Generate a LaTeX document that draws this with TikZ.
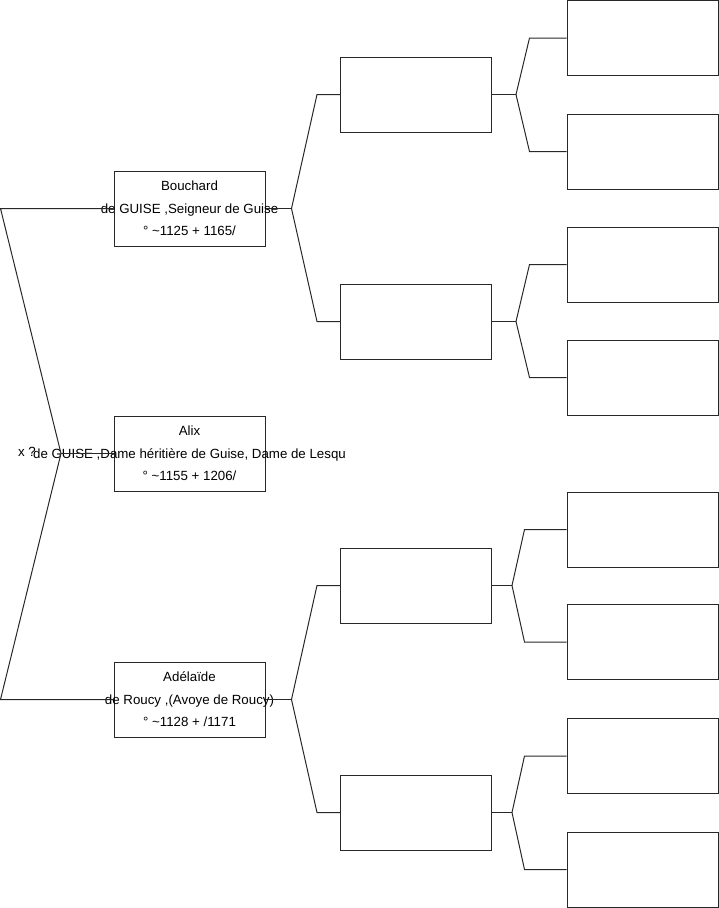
\documentclass[tikz,border=0pt]{standalone}
\usepackage{fontspec}
\setmainfont{Liberation Sans}
\usepackage{tikz}
\usetikzlibrary{positioning, calc}
\definecolor{lineg}{RGB}{40,40,40}
\newcommand{\ovl}[1]{\makebox[0pt]{#1}}

\begin{document}
\begin{tikzpicture}[x=1pt, y=-1pt,
  person/.style={rectangle, draw=lineg, line width=1pt, minimum width=151pt, minimum height=75pt, inner sep=0pt, align=center, font=\fontsize{13.3}{22.5}\selectfont},
  blank/.style={rectangle, draw=lineg, line width=1pt, minimum width=151pt, minimum height=75pt, inner sep=0pt},
  link/.style={draw=lineg, line width=1pt}
]
\useasboundingbox (0,0) rectangle (719,908);
% Generation 1
\node[person] (bouchard) at (189.5,208.5) {\ovl{Bouchard}\\\ovl{de GUISE ,Seigneur de Guise}\\\ovl{° \textasciitilde1125 + 1165/}};
\node[person] (alix) at (189.5,453.5) {\ovl{Alix}\\\ovl{de GUISE ,Dame héritière de Guise, Dame de Lesqu}\\\ovl{° \textasciitilde1155 + 1206/}};
\node[person] (adelaide) at (189.5,699.5) {\ovl{Adélaïde}\\\ovl{de Roucy ,(Avoye de Roucy)}\\\ovl{° \textasciitilde1128 + /1171}};
% Generation 2
\node[blank] (p1) at (416,94.5) {};
\node[blank] (p2) at (416,321.5) {};
\node[blank] (p3) at (416,585.5) {};
\node[blank] (p4) at (416,812.5) {};
% Generation 3
\node[blank] (g1) at (642.5,38) {};
\node[blank] (g2) at (642.5,151.5) {};
\node[blank] (g3) at (642.5,264.5) {};
\node[blank] (g4) at (642.5,377.5) {};
\node[blank] (g5) at (642.5,529.5) {};
\node[blank] (g6) at (642.5,642) {};
\node[blank] (g7) at (642.5,756) {};
\node[blank] (g8) at (642.5,869.5) {};
% Marriage
\coordinate (wed) at (61,453.5);
\node[font=\fontsize{13.3}{16}\selectfont] (mar) at (27,452) {x ?};
\draw[link] (bouchard.west) -- ++(-113,0) -- (wed) -- ([xshift=-113pt]adelaide.west) -- (adelaide.west);
\draw[link] (wed) -- (alix.west);
% Parents
\draw[link] (bouchard.east) -- ++(26,0) coordinate (j1);
\draw[link] (j1) -- ([xshift=-23pt]p1.west) -- (p1.west);
\draw[link] (j1) -- ([xshift=-23pt]p2.west) -- (p2.west);
\draw[link] (adelaide.east) -- ++(26,0) coordinate (j2);
\draw[link] (j2) -- ([xshift=-23pt]p3.west) -- (p3.west);
\draw[link] (j2) -- ([xshift=-23pt]p4.west) -- (p4.west);
% Grandparents
\draw[link] (p1.east) -- ++(24,0) coordinate (k1);
\draw[link] (k1) -- ([xshift=-37pt]g1.west) -- (g1.west);
\draw[link] (k1) -- ([xshift=-37pt]g2.west) -- (g2.west);
\draw[link] (p2.east) -- ++(24,0) coordinate (k2);
\draw[link] (k2) -- ([xshift=-37pt]g3.west) -- (g3.west);
\draw[link] (k2) -- ([xshift=-37pt]g4.west) -- (g4.west);
\draw[link] (p3.east) -- ++(20,0) coordinate (k3);
\draw[link] (k3) -- ([xshift=-42pt]g5.west) -- (g5.west);
\draw[link] (k3) -- ([xshift=-42pt]g6.west) -- (g6.west);
\draw[link] (p4.east) -- ++(20,0) coordinate (k4);
\draw[link] (k4) -- ([xshift=-42pt]g7.west) -- (g7.west);
\draw[link] (k4) -- ([xshift=-42pt]g8.west) -- (g8.west);
\end{tikzpicture}
\end{document}
